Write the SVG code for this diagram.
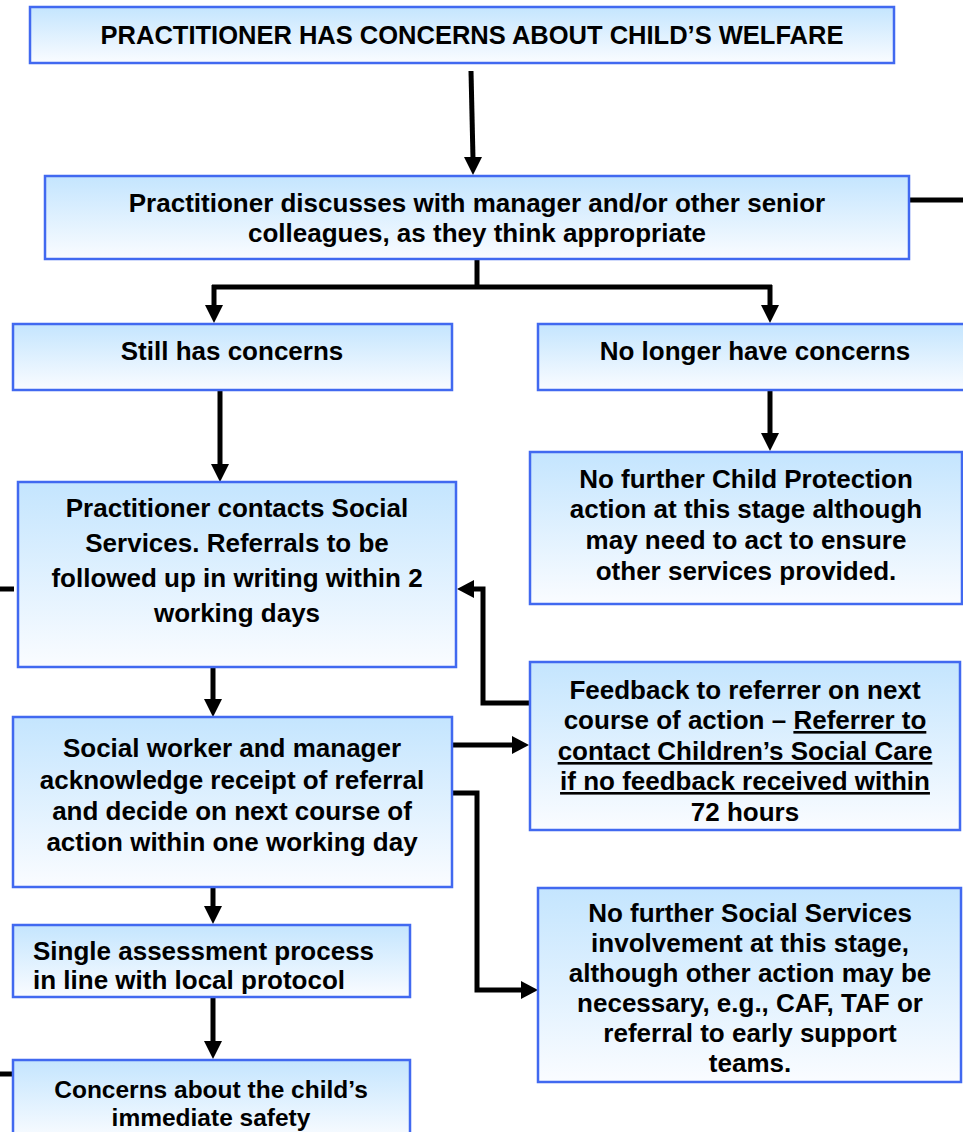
<svg xmlns="http://www.w3.org/2000/svg" width="963" height="1132" viewBox="0 0 963 1132">
<defs>
<linearGradient id="g" x1="0" y1="0" x2="0" y2="1">
<stop offset="0" stop-color="#c4e5fe"/>
<stop offset="1" stop-color="#fafcff"/>
</linearGradient>
<style>
.box{fill:url(#g);stroke:#4169f0;stroke-width:2.5}
.t{font-family:"Liberation Sans",Arial,sans-serif;font-weight:bold;font-size:26px;fill:#000;text-anchor:middle}
.cap{font-size:25.5px}
.sm{font-size:24.5px}
.l{text-anchor:start}
.c{fill:none;stroke:#000;stroke-width:5}
.h{fill:#000}
.u{text-decoration:underline}
</style>
</defs>
<rect width="963" height="1132" fill="#fff"/>
<g id="connectors">
<path class="c" d="M471,71 L473,159"/>
<polygon class="h" points="464,157 482,157 473,175"/>
<path class="c" d="M909,200 L963,200"/>
<path class="c" d="M477,260 L477,287"/>
<path class="c" d="M212,287 L772,287"/>
<path class="c" d="M214,285 L214,307"/>
<polygon class="h" points="205,305 223,305 214,323"/>
<path class="c" d="M770,285 L770,307"/>
<polygon class="h" points="761,305 779,305 770,323"/>
<path class="c" d="M220,391 L220,466"/>
<polygon class="h" points="211,464 229,464 220,482"/>
<path class="c" d="M770,391 L770,435"/>
<polygon class="h" points="761,433 779,433 770,451"/>
<path class="c" d="M0,589 L14,589"/>
<path class="c" d="M530,703 L483,703 L483,589 L472,589"/>
<polygon class="h" points="474,580 474,598 457,589"/>
<path class="c" d="M213,668 L213,701"/>
<polygon class="h" points="204,699 222,699 213,717"/>
<path class="c" d="M453,745 L514,745"/>
<polygon class="h" points="512,736 512,754 529,745"/>
<path class="c" d="M453,793 L477,793 L477,990 L523,990"/>
<polygon class="h" points="521,981 521,999 538,990"/>
<path class="c" d="M213,888 L213,908"/>
<polygon class="h" points="204,906 222,906 213,924"/>
<path class="c" d="M213,998 L213,1043"/>
<polygon class="h" points="204,1041 222,1041 213,1059"/>
<path class="c" d="M0,1074 L14,1074"/>
</g>
<g id="n1">
<rect class="box" x="30" y="7" width="864" height="56"/>
<text class="t cap" x="472" y="44">PRACTITIONER HAS CONCERNS ABOUT CHILD’S WELFARE</text>
</g>
<g id="n2">
<rect class="box" x="45" y="176" width="864" height="83"/>
<text class="t" x="477" y="212">Practitioner discusses with manager and/or other senior</text>
<text class="t" x="477" y="242">colleagues, as they think appropriate</text>
</g>
<g id="n3">
<rect class="box" x="13" y="324" width="439" height="66"/>
<text class="t" x="232" y="360">Still has concerns</text>
</g>
<g id="n4">
<rect class="box" x="538" y="324" width="436" height="66"/>
<text class="t" x="755" y="360">No longer have concerns</text>
</g>
<g id="n5">
<rect class="box" x="530" y="452" width="432" height="152"/>
<text class="t" x="746" y="488">No further Child Protection</text>
<text class="t" x="746" y="518">action at this stage although</text>
<text class="t" x="746" y="549">may need to act to ensure</text>
<text class="t" x="746" y="580">other services provided.</text>
</g>
<g id="n6">
<rect class="box" x="18" y="482" width="438" height="185"/>
<text class="t" x="237" y="517">Practitioner contacts Social</text>
<text class="t" x="237" y="552">Services. Referrals to be</text>
<text class="t" x="237" y="587">followed up in writing within 2</text>
<text class="t" x="237" y="622">working days</text>
</g>
<g id="n7">
<rect class="box" x="530" y="662" width="430" height="168"/>
<text class="t" x="745" y="699">Feedback to referrer on next</text>
<text class="t" x="745" y="729">course of action – <tspan class="u">Referrer to</tspan></text>
<text class="t u" x="745" y="760">contact Children’s Social Care</text>
<text class="t u" x="745" y="790">if no feedback received within</text>
<text class="t" x="745" y="821">72 hours</text>
</g>
<g id="n8">
<rect class="box" x="13" y="717" width="439" height="170"/>
<text class="t" x="232" y="757">Social worker and manager</text>
<text class="t" x="232" y="789">acknowledge receipt of referral</text>
<text class="t" x="232" y="820">and decide on next course of</text>
<text class="t" x="232" y="851">action within one working day</text>
</g>
<g id="n9">
<rect class="box" x="538" y="888" width="423" height="194"/>
<text class="t" x="750" y="922">No further Social Services</text>
<text class="t" x="750" y="952">involvement at this stage,</text>
<text class="t" x="750" y="982">although other action may be</text>
<text class="t" x="750" y="1012">necessary, e.g., CAF, TAF or</text>
<text class="t" x="750" y="1042">referral to early support</text>
<text class="t" x="750" y="1072">teams.</text>
</g>
<g id="n10">
<rect class="box" x="13" y="925" width="397" height="72"/>
<text class="t l" x="33" y="960">Single assessment process</text>
<text class="t l" x="33" y="989">in line with local protocol</text>
</g>
<g id="n11">
<rect class="box" x="13" y="1060" width="397" height="80"/>
<text class="t sm" x="211" y="1098">Concerns about the child’s</text>
<text class="t sm" x="211" y="1126">immediate safety</text>
</g>
</svg>
